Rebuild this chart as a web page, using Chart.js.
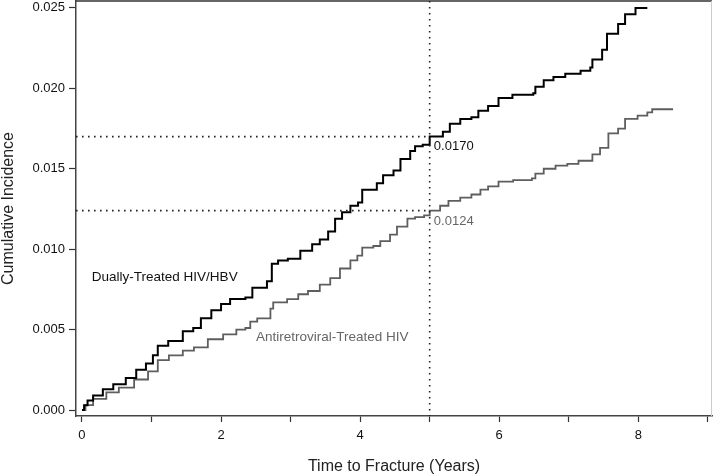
<!DOCTYPE html>
<html>
<head>
<meta charset="utf-8">
<script src="https://cdn.jsdelivr.net/npm/chart.js@4.4.1/dist/chart.umd.min.js"></script>
<style>
    body { margin: 0; background: #fff; }
    #wrap { width: 713px; height: 476px; }
</style>
</head>
<body>
<div id="wrap"><canvas id="incidence" width="713" height="476"></canvas></div>
<script>
// cumulative incidence (years, incidence)
const dualX = [0, 0.03, 0.08, 0.16, 0.30, 0.45, 0.63, 0.78, 0.92, 1.02, 1.09, 1.24, 1.45, 1.60, 1.71, 1.86,
    2.00, 2.13, 2.35, 2.45, 2.66, 2.73, 2.82, 2.96, 3.14, 3.31, 3.42, 3.54, 3.64, 3.74, 3.86, 3.97,
    4.03, 4.24, 4.33, 4.48, 4.58, 4.72, 4.79, 4.90, 5.00, 5.19, 5.29, 5.44, 5.60, 5.70, 5.84, 5.99,
    6.19, 6.49, 6.52, 6.64, 6.78, 6.95, 7.17, 7.31, 7.34, 7.48, 7.55, 7.71, 7.81, 7.96, 8.13];
const dualY = [0, 0.0003, 0.0006, 0.0009, 0.0013, 0.0016, 0.0020, 0.0025, 0.0029, 0.0034, 0.0040, 0.0043, 0.0049, 0.0051, 0.0057, 0.0062,
    0.0066, 0.0069, 0.0070, 0.0076, 0.0080, 0.0091, 0.0093, 0.0094, 0.0099, 0.0103, 0.0106, 0.0111, 0.0119, 0.0123, 0.0127, 0.0129,
    0.0137, 0.0141, 0.0146, 0.0149, 0.0156, 0.0161, 0.0164, 0.0165, 0.0170, 0.0173, 0.0178, 0.0181, 0.0182, 0.0186, 0.0189, 0.0194,
    0.0196, 0.0197, 0.0201, 0.0205, 0.0207, 0.0209, 0.0211, 0.0213, 0.0218, 0.0224, 0.0234, 0.0240, 0.0246, 0.0250, 0.0250];

const artX = [0, 0.05, 0.16, 0.35, 0.53, 0.75, 0.95, 1.09, 1.25, 1.45, 1.61, 1.81, 2.03, 2.22, 2.35, 2.42,
    2.52, 2.71, 2.75, 2.95, 3.11, 3.25, 3.42, 3.57, 3.71, 3.86, 3.96, 4.03, 4.19, 4.29, 4.43, 4.53,
    4.68, 4.79, 4.92, 5.00, 5.15, 5.27, 5.44, 5.60, 5.73, 5.84, 5.99, 6.20, 6.47, 6.52, 6.64, 6.81,
    6.98, 7.14, 7.31, 7.34, 7.45, 7.57, 7.71, 7.81, 7.99, 8.13, 8.20, 8.50];
const artY = [0, 0.0003, 0.0007, 0.0011, 0.0014, 0.0019, 0.0024, 0.0031, 0.0034, 0.0037, 0.0039, 0.0044, 0.0047, 0.0050, 0.0051, 0.0055,
    0.0057, 0.0063, 0.0067, 0.0069, 0.0072, 0.0074, 0.0078, 0.0082, 0.0088, 0.0093, 0.0096, 0.0101, 0.0102, 0.0105, 0.0109, 0.0114,
    0.0119, 0.0120, 0.0121, 0.0124, 0.0127, 0.0130, 0.0132, 0.0134, 0.0137, 0.0139, 0.0142, 0.0143, 0.0144, 0.0147, 0.0150, 0.0152,
    0.0153, 0.0155, 0.0155, 0.0159, 0.0163, 0.0172, 0.0175, 0.0181, 0.0183, 0.0185, 0.0187, 0.0187];

const xTickValues = [0, 1, 2, 3, 4, 5, 6, 7, 8, 9];
const yTickValues = [0, 0.005, 0.010, 0.015, 0.020, 0.025];

// reference marks at 5 years
const markYear = 5;
const dualAt5 = 0.0170;
const artAt5 = 0.0124;

const FONT = "'Liberation Sans', Arial, sans-serif";

// dotted guides, text labels and the top/right frame
const annotations = {
    id: "annotations",
    afterDatasetsDraw(chart) {
        const { ctx, chartArea, scales } = chart;
        const x = scales.x, y = scales.y;
        ctx.save();
        // frame
        ctx.lineWidth = 1.5;
        ctx.strokeStyle = "#333";
        ctx.beginPath();
        ctx.moveTo(chartArea.left, chartArea.top);
        ctx.lineTo(chartArea.right, chartArea.top);
        ctx.stroke();
        ctx.strokeStyle = "#ccc";
        ctx.lineWidth = 1;
        ctx.beginPath();
        ctx.moveTo(chartArea.right - 0.5, chartArea.top);
        ctx.lineTo(chartArea.right - 0.5, chartArea.bottom);
        ctx.stroke();

        // dotted lines
        ctx.strokeStyle = "#222";
        ctx.lineWidth = 1.6;
        ctx.setLineDash([1.6, 4.4]);
        const xm = x.getPixelForValue(markYear);
        ctx.beginPath();
        ctx.moveTo(xm, chartArea.top);
        ctx.lineTo(xm, chartArea.bottom);
        [dualAt5, artAt5].forEach((v) => {
            const yp = y.getPixelForValue(v);
            ctx.moveTo(chartArea.left, yp);
            ctx.lineTo(xm, yp);
        });
        ctx.stroke();
        ctx.setLineDash([]);

        // text
        ctx.textBaseline = "middle";
        ctx.font = "13px " + FONT;
        ctx.textAlign = "left";
        ctx.fillStyle = "#111";
        ctx.fillText(dualAt5.toFixed(4), x.getPixelForValue(5.06), y.getPixelForValue(0.01636));
        ctx.fillStyle = "#666";
        ctx.fillText(artAt5.toFixed(4), x.getPixelForValue(5.06), y.getPixelForValue(0.01170));
        ctx.font = "13.5px " + FONT;
        ctx.textAlign = "center";
        ctx.fillStyle = "#111";
        ctx.fillText("Dually-Treated HIV/HBV", x.getPixelForValue(1.19), y.getPixelForValue(0.00827));
        ctx.fillStyle = "#666";
        ctx.fillText("Antiretroviral-Treated HIV", x.getPixelForValue(3.6), y.getPixelForValue(0.00454));
        ctx.restore();
    },
};

const toPoints = (xs, ys) => xs.map((v, i) => ({ x: v, y: ys[i] }));

new Chart(document.getElementById("incidence"), {
    type: "line",
    data: {
        datasets: [
            {
                label: "Dually-Treated HIV/HBV",
                data: toPoints(dualX, dualY),
                borderColor: "#000",
                borderWidth: 2,
                stepped: "before",
                pointRadius: 0,
            },
            {
                label: "Antiretroviral-Treated HIV",
                data: toPoints(artX, artY),
                borderColor: "#5e5e5e",
                borderWidth: 1.8,
                stepped: "before",
                pointRadius: 0,
            },
        ],
    },
    options: {
        responsive: false,
        animation: false,
        layout: { padding: { top: 1, right: 1, left: 0, bottom: 0 } },
        plugins: {
            legend: { display: false },
            tooltip: { enabled: false },
        },
        scales: {
            x: {
                type: "linear",
                min: -0.086,
                max: 9.06,
                afterBuildTicks: (scale) => {
                    scale.ticks = xTickValues.map((v) => ({ value: v }));
                },
                afterFit: (scale) => {
                    scale.height = 60;
                    scale.paddingLeft = 0;
                    scale.paddingRight = 0;
                },
                ticks: {
                    color: "#111",
                    font: { family: FONT, size: 13 },
                    padding: 6,
                    maxRotation: 0,
                    autoSkip: false,
                    callback: (v) => (v % 2 === 0 ? String(v) : ""),
                },
                grid: {
                    drawOnChartArea: false,
                    tickLength: 6,
                    tickColor: "#333",
                    tickWidth: 1.2,
                },
                border: { color: "#444", width: 1.5 },
                title: {
                    display: true,
                    text: "Time to Fracture (Years)",
                    color: "#222",
                    font: { family: FONT, size: 16, lineHeight: 1 },
                    padding: { top: 0, bottom: 1 },
                },
            },
            y: {
                type: "linear",
                min: -0.00037,
                max: 0.02543,
                afterBuildTicks: (scale) => {
                    scale.ticks = yTickValues.map((v) => ({ value: v }));
                },
                afterFit: (scale) => {
                    scale.width = 76;
                    scale.paddingTop = 0;
                    scale.paddingBottom = 0;
                },
                ticks: {
                    color: "#111",
                    font: { family: FONT, size: 13 },
                    padding: 4,
                    callback: (v) => v.toFixed(3),
                },
                grid: {
                    drawOnChartArea: false,
                    tickLength: 7,
                    tickColor: "#333",
                    tickWidth: 1.2,
                },
                border: { color: "#444", width: 1.5 },
                title: {
                    display: true,
                    text: "Cumulative Incidence",
                    color: "#222",
                    font: { family: FONT, size: 16, lineHeight: 1 },
                    padding: { top: 1, bottom: 0 },
                },
            },
        },
    },
    plugins: [annotations],
});
</script>
</body>
</html>
